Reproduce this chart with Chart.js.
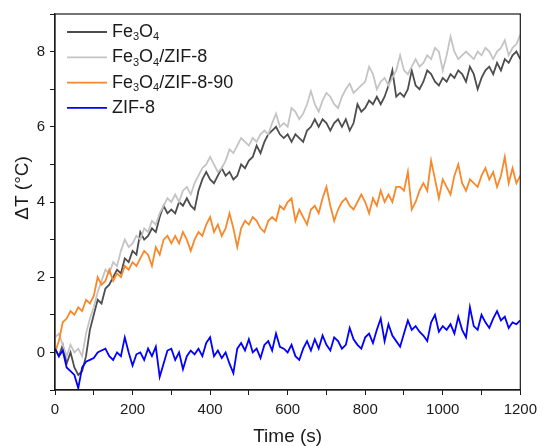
<!DOCTYPE html>
<html>
<head>
<meta charset="utf-8">
<script src="https://cdn.jsdelivr.net/npm/chart.js@4.4.1/dist/chart.umd.min.js"></script>
<style>
  html, body { margin: 0; padding: 0; background: #fff; }
  #wrap { width: 543px; height: 446px; position: relative; }
</style>
</head>
<body>
<div id="wrap"><canvas id="chart"></canvas></div>
<script>
// === データ (10秒間隔) ===
const times = [
  0, 10, 20, 30, 40, 50, 60, 70, 80, 90, 100, 110, 120, 130, 140, 150, 160, 170, 180, 190,
  200, 210, 220, 230, 240, 250, 260, 270, 280, 290, 300, 310, 320, 330, 340, 350, 360, 370, 380, 390,
  400, 410, 420, 430, 440, 450, 460, 470, 480, 490, 500, 510, 520, 530, 540, 550, 560, 570, 580, 590,
  600, 610, 620, 630, 640, 650, 660, 670, 680, 690, 700, 710, 720, 730, 740, 750, 760, 770, 780, 790,
  800, 810, 820, 830, 840, 850, 860, 870, 880, 890, 900, 910, 920, 930, 940, 950, 960, 970, 980, 990,
  1000, 1010, 1020, 1030, 1040, 1050, 1060, 1070, 1080, 1090, 1100, 1110, 1120, 1130, 1140, 1150, 1160, 1170, 1180, 1190,
  1200
];

const fe3o4 = [
  0.1, -0.1, 0.2, -0.3, 0.0, -0.4, -0.6, -0.5, -0.1, 0.6, 1.0, 1.4, 1.3, 1.7, 1.8, 2.0, 2.2, 2.1, 2.5, 2.4,
  2.7, 2.6, 3.2, 3.0, 3.1, 3.3, 3.2, 3.6, 3.9, 3.7, 3.8, 3.7, 4.0, 3.9, 4.1, 3.9, 3.8, 4.3, 4.6, 4.8,
  4.6, 4.5, 4.7, 4.9, 4.7, 4.8, 4.6, 4.7, 5.0, 4.9, 5.1, 5.2, 5.5, 5.3, 5.6, 5.8, 5.9, 6.0, 5.8, 5.7,
  5.8, 5.6, 5.8, 5.7, 5.6, 5.9, 6.0, 6.2, 6.0, 6.2, 6.1, 5.9, 6.1, 6.2, 6.0, 6.2, 5.9, 6.1, 6.6, 6.4,
  6.5, 6.7, 6.6, 6.8, 6.6, 6.8, 7.1, 7.5, 6.8, 6.9, 6.8, 7.0, 7.5, 7.1, 7.0, 7.2, 7.5, 7.4, 7.2, 7.1,
  7.3, 7.2, 7.4, 7.3, 7.5, 7.4, 7.2, 7.6, 7.4, 7.0, 7.3, 7.5, 7.6, 7.4, 7.7, 7.5, 7.8, 7.7, 7.9, 8.0,
  7.8
];

const fe3o4Zif8 = [
  0.4, 0.5, 0.2, -0.1, 0.2, 0.0, 0.1, -0.1, 0.5, 0.9, 1.2, 1.6, 1.9, 2.2, 2.1, 2.4, 2.3, 2.7, 3.0, 2.8,
  2.9, 3.1, 3.0, 3.3, 3.2, 3.5, 3.4, 3.7, 3.9, 4.1, 4.0, 4.2, 4.0, 4.3, 4.4, 4.2, 4.5, 4.7, 4.9, 5.0,
  5.2, 5.0, 4.8, 4.9, 5.1, 5.4, 5.3, 5.5, 5.7, 5.6, 5.5, 5.7, 5.6, 5.8, 5.9, 5.8, 6.1, 6.35, 6.0, 6.1,
  6.0, 6.5, 6.4, 6.2, 6.35, 6.6, 6.95, 6.6, 6.4, 6.7, 6.9, 6.8, 6.6, 6.5, 6.8, 7.0, 7.15, 6.9, 7.0, 7.1,
  7.2, 7.6, 7.4, 7.0, 7.2, 7.3, 7.1, 7.3, 7.5, 7.9, 7.5, 7.4, 7.6, 7.8, 7.6, 7.7, 7.9, 7.8, 8.1, 8.0,
  7.5, 7.9, 8.4, 8.0, 7.8, 7.9, 8.0, 7.9, 7.8, 8.0, 7.9, 8.1, 8.0, 7.8, 8.0, 8.1, 8.3, 7.9, 8.1, 8.2,
  8.45
];

const fe3o4Zif890 = [
  0.0, 0.3, 0.8, 0.9, 1.1, 1.0, 1.2, 1.1, 1.4, 1.3, 1.5, 2.0, 1.8, 1.9, 2.2, 1.9, 2.1, 2.0, 2.3, 2.2,
  2.4, 2.3, 2.5, 2.7, 2.6, 2.3, 2.8, 2.6, 3.0, 3.1, 2.9, 3.1, 2.9, 3.2, 3.0, 2.7, 3.0, 3.2, 3.1, 3.4,
  3.6, 3.2, 3.4, 3.1, 3.3, 3.7, 3.3, 2.8, 3.3, 3.5, 3.4, 3.6, 3.5, 3.3, 3.2, 3.5, 3.6, 3.5, 3.9, 3.8,
  4.0, 4.1, 3.5, 3.8, 3.6, 3.4, 3.8, 3.9, 3.7, 4.1, 4.4, 3.9, 3.5, 3.8, 4.0, 4.1, 3.9, 3.8, 4.0, 4.2,
  4.0, 3.7, 4.1, 3.9, 4.3, 4.0, 4.2, 4.0, 4.4, 4.4, 4.3, 4.8, 3.8, 4.0, 4.3, 4.5, 4.3, 5.1, 4.6, 4.1,
  4.6, 4.4, 4.2, 4.7, 5.0, 4.5, 4.3, 4.6, 4.5, 4.4, 4.7, 4.9, 4.6, 4.8, 4.4, 4.7, 5.2, 4.5, 4.9, 4.5,
  4.7
];

const zif8 = [
  0.1, -0.1, 0.05, -0.4, -0.5, -0.6, -0.95, -0.4, -0.25, -0.2, -0.15, 0.0, 0.05, 0.1, -0.1, -0.2, 0.0, -0.1, 0.4, 0.0,
  -0.35, -0.05, 0.0, -0.2, 0.1, -0.1, 0.15, -0.65, -0.3, 0.05, 0.1, -0.2, 0.0, -0.45, -0.1, 0.05, -0.05, 0.1, -0.1, 0.25,
  0.4, -0.1, 0.05, -0.15, 0.0, -0.3, -0.55, 0.1, 0.25, 0.05, 0.35, 0.0, 0.1, -0.15, 0.2, 0.3, 0.05, 0.5, 0.15, 0.1,
  0.0, 0.2, -0.1, -0.2, 0.1, 0.3, 0.05, 0.35, 0.1, 0.45, 0.2, 0.05, 0.4, 0.3, 0.1, 0.2, 0.65, 0.35, 0.2, 0.1,
  0.4, 0.5, 0.25, 0.6, 0.9, 0.3, 0.75, 0.45, 0.3, 0.15, 0.5, 0.85, 0.6, 0.7, 0.55, 0.45, 0.3, 0.8, 1.0, 0.55,
  0.7, 0.6, 0.75, 0.5, 0.95, 0.6, 0.4, 1.2, 0.7, 0.6, 1.0, 0.8, 0.65, 0.9, 1.1, 0.85, 0.95, 0.65, 0.8, 0.75,
  0.85
];

const seriesNames = ['Fe3O4', 'Fe3O4/ZIF-8', 'Fe3O4/ZIF-8-90', 'ZIF-8'];
const seriesColors = ['#4d4d4d', '#c4c4c4', '#f7892c', '#0000ff'];
const seriesData = [fe3o4, fe3o4Zif8, fe3o4Zif890, zif8];

const xTitle = 'Time (s)';
const yTitle = 'ΔT (°C)';

const FONT = "'Liberation Sans', Arial, sans-serif";
const INK = '#1a1a1a';

// === 枠・凡例・軸タイトル ===
function drawRich(ctx, text, x, y, size) {
    // 英字の直後の数字は下付き
    let cx = x;
    for (let i = 0; i < text.length; i++) {
        const ch = text[i];
        const sub = /\d/.test(ch) && i > 0 && /[A-Za-z]/.test(text[i - 1]);
        if (sub) {
            ctx.font = `${Math.round(size * 0.62)}px ${FONT}`;
            ctx.fillText(ch, cx, y + size * 0.3);
        } else {
            ctx.font = `${size}px ${FONT}`;
            ctx.fillText(ch, cx, y);
        }
        cx += ctx.measureText(ch).width;
    }
}

const decorPlugin = {
    id: 'decor',
    afterDraw(chart) {
        const { ctx, chartArea: a } = chart;
        ctx.save();
        // 枠
        ctx.strokeStyle = INK;
        ctx.lineWidth = 1.2;
        ctx.strokeRect(a.left, a.top, a.right - a.left, a.bottom - a.top);

        // 凡例
        ctx.textBaseline = 'middle';
        ctx.fillStyle = INK;
        seriesNames.forEach((name, i) => {
            const y = 32 + i * 25.3;
            ctx.strokeStyle = seriesColors[i];
            ctx.lineWidth = 1.8;
            ctx.beginPath();
            ctx.moveTo(67, y);
            ctx.lineTo(107, y);
            ctx.stroke();
            ctx.fillStyle = INK;
            drawRich(ctx, name, 112, y, 18);
        });

        // 軸タイトル
        ctx.font = `19px ${FONT}`;
        ctx.textAlign = 'center';
        ctx.textBaseline = 'middle';
        ctx.fillText(xTitle, (a.left + a.right) / 2, 437);
        ctx.translate(23, 188);
        ctx.rotate(-Math.PI / 2);
        ctx.fillText(yTitle, 0, 0);
        ctx.restore();
    }
};

// === チャート ===
const ctx = document.getElementById('chart').getContext('2d');
new Chart(ctx, {
    type: 'line',
    data: {
        datasets: seriesData.map((vals, i) => ({
            label: seriesNames[i],
            data: times.map((t, k) => ({ x: t, y: vals[k] })),
            borderColor: seriesColors[i],
            borderWidth: 1.8,
            pointRadius: 0,
            tension: 0,
            fill: false,
            order: 4 - i,
        })),
    },
    options: {
        responsive: true,
        maintainAspectRatio: false,
        animation: false,
        layout: { padding: { top: 13, right: 19, left: 0, bottom: 0 } },
        plugins: {
            legend: { display: false },
            tooltip: { enabled: false },
        },
        scales: {
            x: {
                type: 'linear',
                min: 0,
                max: 1200,
                afterFit: s => { s.height = 56; },
                grid: { drawOnChartArea: false, drawTicks: true, tickLength: 5, color: INK },
                border: { display: true, color: INK, width: 1.2 },
                ticks: {
                    stepSize: 100,
                    autoSkip: false,
                    maxRotation: 0,
                    padding: 6,
                    color: INK,
                    font: { family: FONT, size: 15 },
                    callback: v => (v % 200 === 0 ? v : ''),
                },
            },
            y: {
                min: -1,
                max: 9,
                afterFit: s => { s.width = 55; },
                grid: { drawOnChartArea: false, drawTicks: true, tickLength: 5, color: INK },
                border: { display: true, color: INK, width: 1.2 },
                ticks: {
                    stepSize: 1,
                    autoSkip: false,
                    padding: 5,
                    color: INK,
                    font: { family: FONT, size: 15 },
                    callback: v => (v >= 0 && v <= 8 && v % 2 === 0 ? v : ''),
                },
            },
        },
    },
    plugins: [decorPlugin],
});
</script>
</body>
</html>
